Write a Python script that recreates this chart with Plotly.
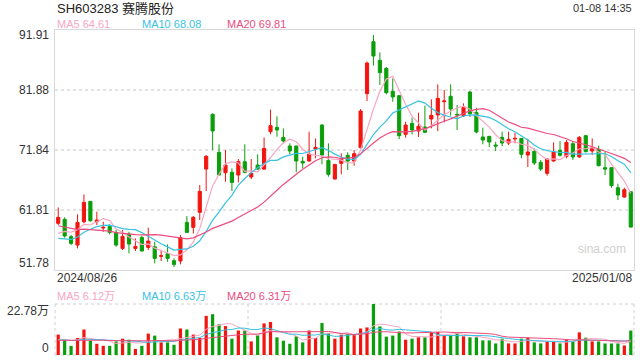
import pandas as pd
import plotly.graph_objects as go

# ---------------- data ----------------
opens = [59.58, 60.25, 57.35, 55.95, 59.85, 63.26, 59.85, 58.80, 59.07, 58.07,
         55.39, 57.79, 55.39, 57.23, 55.56, 55.67, 54.06, 54.50, 53.33, 53.28,
         59.74, 58.91, 61.42, 68.66, 77.81, 71.45, 68.05, 68.11, 67.66, 69.89,
         67.33, 69.33, 68.66, 74.91, 75.63, 73.96, 72.51, 72.51, 69.95, 70.00,
         72.01, 76.02, 70.11, 66.99, 69.61, 70.95, 70.00, 72.23, 81.26, 89.96,
         86.84, 85.50, 81.65, 80.93, 74.46, 76.30, 75.02, 75.69, 77.03, 77.70,
         79.92, 80.82, 77.81, 77.58, 81.54, 78.14, 74.02, 74.13, 72.68, 73.96,
         73.01, 73.68, 73.79, 71.00, 71.62, 69.78, 67.94, 70.00, 71.79, 70.78,
         72.90, 70.67, 74.24, 71.67, 71.95, 68.89, 68.89, 65.54, 63.98, 64.87]
highs = [62.25, 60.58, 57.62, 61.08, 64.43, 63.30, 61.53, 59.85, 59.41, 58.46,
         58.46, 58.18, 57.07, 57.51, 58.85, 56.51, 55.12, 56.06, 53.72, 57.62,
         60.80, 60.80, 65.99, 71.00, 77.97, 72.79, 71.84, 68.77, 70.34, 72.79,
         70.34, 71.12, 73.96, 78.59, 77.47, 75.46, 72.96, 72.55, 70.73, 74.91,
         73.79, 76.13, 72.96, 69.50, 71.28, 71.45, 71.84, 78.70, 86.62, 91.07,
         88.18, 85.72, 83.83, 81.00, 76.58, 77.25, 78.09, 79.26, 80.32, 82.82,
         81.88, 82.82, 79.37, 79.65, 81.71, 78.92, 75.58, 74.20, 73.23, 74.91,
         74.91, 74.74, 73.85, 73.74, 72.12, 70.17, 70.40, 73.12, 73.35, 73.51,
         73.23, 74.18, 74.35, 73.79, 72.57, 71.56, 68.95, 66.21, 65.54, 64.90]
lows = [59.30, 57.18, 55.95, 55.39, 59.58, 59.85, 59.30, 58.18, 57.74, 55.67,
        55.12, 54.56, 54.95, 54.90, 55.12, 52.89, 53.28, 53.16, 52.27, 52.72,
        58.00, 57.90, 60.13, 64.98, 71.84, 67.60, 66.54, 64.98, 66.43, 67.94,
        66.99, 68.50, 68.50, 74.46, 74.07, 72.96, 71.12, 68.11, 68.77, 69.89,
        70.45, 69.44, 67.38, 66.95, 67.77, 68.50, 69.22, 72.12, 80.04, 85.95,
        82.71, 81.15, 79.92, 73.68, 73.90, 74.46, 74.02, 74.75, 75.46, 75.02,
        76.47, 77.58, 75.19, 77.36, 77.36, 74.63, 72.79, 72.34, 71.67, 72.51,
        72.68, 72.96, 70.45, 68.99, 69.33, 68.33, 67.55, 69.89, 70.73, 70.45,
        70.17, 70.56, 71.45, 71.00, 69.11, 67.66, 65.54, 63.48, 63.87, 58.90]
closes = [60.58, 57.46, 56.23, 59.74, 63.09, 60.02, 60.13, 58.91, 58.07, 55.95,
          57.40, 56.12, 55.73, 54.95, 56.62, 53.72, 54.17, 53.72, 52.72, 57.18,
          58.07, 60.58, 64.93, 70.78, 75.02, 67.66, 69.33, 66.43, 69.89, 68.11,
          67.94, 68.66, 72.12, 75.91, 75.19, 73.35, 71.67, 70.00, 69.67, 71.17,
          72.29, 71.00, 67.77, 69.44, 70.28, 70.00, 71.23, 78.36, 86.39, 87.56,
          84.78, 81.43, 80.71, 74.24, 76.02, 75.19, 75.80, 74.80, 77.64, 80.48,
          80.04, 78.70, 77.70, 78.92, 77.92, 74.85, 73.51, 73.18, 72.51, 73.01,
          73.63, 73.79, 71.12, 71.51, 69.67, 68.66, 70.34, 71.56, 70.95, 73.12,
          70.67, 73.96, 71.56, 72.12, 69.22, 68.66, 65.88, 64.32, 65.21, 58.96]
# volume in 万 (10k shares)
volumes = [9.11, 6.83, 4.10, 7.59, 11.39, 6.38, 5.01, 4.10, 4.10, 6.07,
           7.29, 6.83, 2.73, 4.10, 9.57, 8.66, 5.62, 5.62, 4.56, 11.85,
           11.39, 9.11, 7.59, 17.47, 18.22, 13.67, 12.91, 7.29, 10.93, 10.93,
           6.07, 8.81, 14.12, 14.73, 7.90, 6.38, 5.01, 8.35, 5.62, 10.93,
           7.59, 14.28, 9.87, 7.29, 9.11, 9.42, 9.11, 11.85, 12.30, 22.78,
           12.76, 8.20, 8.66, 10.48, 6.83, 7.29, 7.90, 7.90, 10.18, 10.33,
           8.81, 8.81, 9.87, 8.35, 7.90, 7.90, 6.53, 6.53, 5.16, 7.29,
           5.16, 5.16, 7.29, 7.75, 5.62, 5.16, 6.07, 6.07, 5.16, 6.83,
           6.07, 10.10, 7.75, 6.07, 6.07, 5.16, 5.16, 5.16, 4.25, 10.90]
# sessions before the visible window (estimated from where the MA lines start)
prior_closes = [62.0, 61.8, 62.5, 61.9, 61.2, 60.8, 61.0, 60.5, 60.9, 60.4,
                58.5, 57.0, 55.6, 55.3, 54.8, 55.8, 56.9, 57.6, 58.6]
prior_volumes = [6.5, 7.2, 5.8, 6.1, 7.0, 6.4, 5.5, 6.8, 7.4, 6.0,
                 5.9, 6.6, 7.1, 6.2, 5.7, 6.9, 6.3, 6.0, 6.5]

y_ticks = [91.91, 81.88, 71.84, 61.81, 51.78]
start_label = "2024/08/26"
end_label = "2025/01/08"
title = "SH603283 赛腾股份"
stamp = "01-08 14:35"
vol_max = 22.78
# legend values as printed on the chart
ma_labels = ["64.61", "68.08", "69.81"]
vma_labels = ["6.12万", "6.63万", "6.31万"]

# ---------------- derived ----------------
n = len(closes)
xs = list(range(n))
c_all = pd.Series(prior_closes + closes)
v_all = pd.Series(prior_volumes + volumes)
k = len(prior_closes)
ma = {p: c_all.rolling(p).mean().tolist()[k:] for p in (5, 10, 20)}
vma = {p: v_all.rolling(p).mean().tolist()[k:] for p in (5, 10, 20)}

UP = "#f2150f"
DOWN = "#0a9f0a"
MA_COL = {5: "#f8a6c2", 10: "#37c2e2", 20: "#ec4b7e"}
FONT = "Liberation Sans, Arial, Noto Sans CJK SC, sans-serif"

fig = go.Figure()
fig.add_trace(go.Candlestick(
    x=xs, open=opens, high=highs, low=lows, close=closes,
    increasing=dict(line=dict(color=UP, width=1), fillcolor=UP),
    decreasing=dict(line=dict(color=DOWN, width=1), fillcolor=DOWN),
    whiskerwidth=0, xaxis="x", yaxis="y", hoverinfo="skip", showlegend=False))
for p in (5, 10, 20):
    fig.add_trace(go.Scatter(x=xs, y=ma[p], mode="lines",
                             line=dict(color=MA_COL[p], width=1.2),
                             xaxis="x", yaxis="y", hoverinfo="skip", showlegend=False))

vcolors = [UP if c >= o else DOWN for o, c in zip(opens, closes)]
fig.add_trace(go.Bar(x=xs, y=volumes, marker=dict(color=vcolors, line=dict(width=0)),
                     width=0.5, xaxis="x2", yaxis="y2", hoverinfo="skip", showlegend=False))
for p in (5, 10, 20):
    fig.add_trace(go.Scatter(x=xs, y=vma[p], mode="lines",
                             line=dict(color=MA_COL[p], width=1),
                             xaxis="x2", yaxis="y2", hoverinfo="skip", showlegend=False))

W, H = 640, 360
L, R = 55, 634
MT, MB = 30, 270
VT, VB = 304, 355


def px(x):
    return x / W


def py(y):
    return 1 - y / H


fig.update_layout(
    width=W, height=H, margin=dict(l=0, r=0, t=0, b=0),
    paper_bgcolor="white", plot_bgcolor="white",
    font=dict(family=FONT, color="#333"),
    xaxis=dict(domain=[px(L), px(R)], range=[-0.5, n - 0.5], showticklabels=False,
               showgrid=False, zeroline=False, rangeslider=dict(visible=False),
               showline=True, mirror=True, linecolor="#d8d8d8", linewidth=1, anchor="y"),
    yaxis=dict(domain=[py(MB), py(MT)], range=[y_ticks[-1], y_ticks[0]],
               tickvals=y_ticks[1:-1], showticklabels=False,
               showgrid=True, gridcolor="#e3e3e3", griddash="dot", gridwidth=1.5,
               zeroline=False, showline=True, mirror=True, linecolor="#d8d8d8",
               linewidth=1, anchor="x"),
    xaxis2=dict(domain=[px(L), px(R)], range=[-0.5, n - 0.5], showticklabels=False,
                matches="x", showgrid=False, zeroline=False, anchor="y2"),
    yaxis2=dict(domain=[py(VB), py(VT)], range=[0, vol_max], showticklabels=False,
                showgrid=False, zeroline=False, anchor="x2"),
)

shapes = []
for (x0, y0, x1, y1) in [(L, VT, R, VT), (L, VB, R, VB), (L, VT, L, VB), (R, VT, R, VB),
                         (L + (R - L) / 3, VT, L + (R - L) / 3, VB),
                         (L + 2 * (R - L) / 3, VT, L + 2 * (R - L) / 3, VB)]:
    shapes.append(dict(type="line", xref="paper", yref="paper",
                       x0=px(x0), y0=py(y0), x1=px(x1), y1=py(y1),
                       line=dict(color="#d0d0d0", width=1, dash="dot"), layer="below"))
fig.update_layout(shapes=shapes)

ann = []


def text(x, y, s, size, color="#333", xanchor="left"):
    ann.append(dict(x=px(x), y=py(y), xref="paper", yref="paper", text=s, showarrow=False,
                    xanchor=xanchor, yanchor="middle", font=dict(size=size, color=color, family=FONT)))


text(55, 8, title, 13, "#222")
text(634, 8, stamp, 11, "#333", "right")
text(55, 24, f"MA5 {ma_labels[0]}", 11, MA_COL[5])
text(140, 24, f"MA10 {ma_labels[1]}", 11, MA_COL[10])
text(225, 24, f"MA20 {ma_labels[2]}", 11, MA_COL[20])
ylab_pos = [35, 90, 150, 210, 263]
for v, yy in zip(y_ticks, ylab_pos):
    text(51, yy, f"{v:.2f}", 12, "#333", "right")
text(55, 278, start_label, 12, "#333")
text(634, 278, end_label, 12, "#333", "right")
text(55, 295.5, f"MA5 {vma_labels[0]}", 11, MA_COL[5])
text(140, 295.5, f"MA10 {vma_labels[1]}", 11, MA_COL[10])
text(225, 295.5, f"MA20 {vma_labels[2]}", 11, MA_COL[20])
text(51, 311, f"{vol_max:.2f}万", 12, "#333", "right")
text(51, 348, "0", 12, "#333", "right")
text(602, 249, "sina.com", 12, "#cfcfcf", "center")
fig.update_layout(annotations=ann)

fig.write_html("out.html", config={"displayModeBar": False},
               post_script="document.body.style.margin='0';document.body.style.overflow='hidden';")
